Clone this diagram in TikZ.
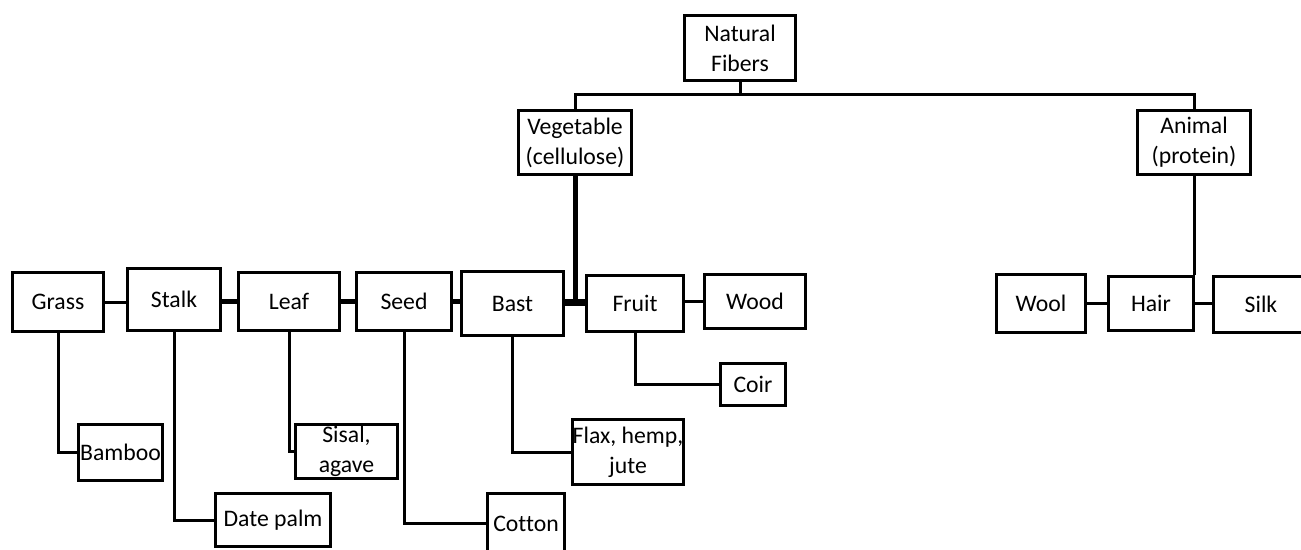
\documentclass[tikz,border=0pt]{standalone}
\usepackage{fontspec}
\setmainfont{Carlito}[Ligatures={NoCommon}]
\begin{document}
\begin{tikzpicture}[x=0.02cm,y=-0.02cm,
  box/.style={draw,line width=0.065cm,inner sep=0pt,align=center,
    font=\fontsize{13.5}{17}\selectfont},
  thin/.style={line width=0.06cm},
  thick5/.style={line width=0.1cm},
  thick7/.style={line width=0.14cm}]
\useasboundingbox (0,0) rectangle (1301,549);
\clip (0,0) rectangle (1301,549);
% top level
\node[box,minimum width=2.22cm,minimum height=1.30cm] (nf) at (740,48) {Natural\\Fibers};
\node[box,minimum width=2.26cm,minimum height=1.28cm] (veg) at (575,142.5) {Vegetable\\(cellulose)};
\node[box,minimum width=2.26cm,minimum height=1.28cm] (anim) at (1194,142.5) {Animal\\(protein)};
% vegetable row
\node[box,minimum width=1.82cm,minimum height=1.18cm] (grass) at (58,302) {Grass};
\node[box,minimum width=1.86cm,minimum height=1.24cm] (stalk) at (174,299.5) {Stalk};
\node[box,minimum width=2.02cm,minimum height=1.16cm] (leaf) at (289,301.5) {Leaf};
\node[box,minimum width=1.90cm,minimum height=1.16cm] (seed) at (404,301.5) {Seed};
\node[box,minimum width=2.04cm,minimum height=1.28cm] (bast) at (512.5,303.5) {Bast};
\node[box,minimum width=1.94cm,minimum height=1.12cm] (fruit) at (635,303.5) {Fruit};
\node[box,minimum width=2.02cm,minimum height=1.08cm] (wood) at (755,301.5) {Wood};
% lower boxes
\node[box,minimum width=1.30cm,minimum height=0.84cm] (coir) at (753,384.5) {Coir};
\node[box,minimum width=2.22cm,minimum height=1.30cm] (flax) at (628,452) {Flax, hemp,\\jute};
\node[box,minimum width=1.54cm,minimum height=1.20cm] (cotton) at (526,523.5) {Cotton};
\node[box,minimum width=2.30cm,minimum height=1.06cm] (datepalm) at (273,520) {Date palm};
\node[box,minimum width=1.68cm,minimum height=1.12cm] (bamboo) at (120.5,452.5) {Bamboo};
\node[box,minimum width=2.04cm,minimum height=1.08cm] (sisal) at (346.5,451.5) {Sisal,\\agave};
% animal row
\node[box,minimum width=1.78cm,minimum height=1.16cm] (wool) at (1041,303.5) {Wool};
\node[box,minimum width=1.70cm,minimum height=1.08cm] (hair) at (1151,303.5) {Hair};
\node[box,minimum width=1.90cm,minimum height=1.12cm] (silk) at (1261,304.5) {Silk};
% junctions
\coordinate (bus) at (740,94);
\coordinate (j1) at (575,302);
% top connectors
\draw[thin] (nf.south) -- (bus);
\draw[thin] (veg.north) |- (bus) -| (anim.north);
\draw[thick5] (veg.south) -- (j1);
\draw[thin] (anim.south) -- (anim.south |- hair.north);
% row connectors
\draw[thin] (grass.east) -- (stalk.west |- grass.east);
\draw[thick5] (stalk.east |- leaf.west) -- (leaf.west);
\draw[thick5] (leaf.east) -- (seed.west);
\draw[thick5] (seed.east) -- (bast.west |- seed.east);
\draw[thick7] (bast.east |- j1) -- (fruit.west |- j1);
\draw[thin] (fruit.east |- wood.west) -- (wood.west);
\draw[thin] (wool.east) -- (hair.west);
\draw[thin] (hair.east) -- (silk.west |- hair.east);
% stems
\draw[thin] (grass.south) |- (bamboo.west);
\draw[thin] (stalk.south) |- (datepalm.west);
\draw[thin] (leaf.south) |- (sisal.west);
\draw[thin] (seed.south) |- (cotton.west);
\draw[thin] (bast.south) |- (flax.west);
\draw[thin] (fruit.south) |- (coir.west);
\end{tikzpicture}
\end{document}
